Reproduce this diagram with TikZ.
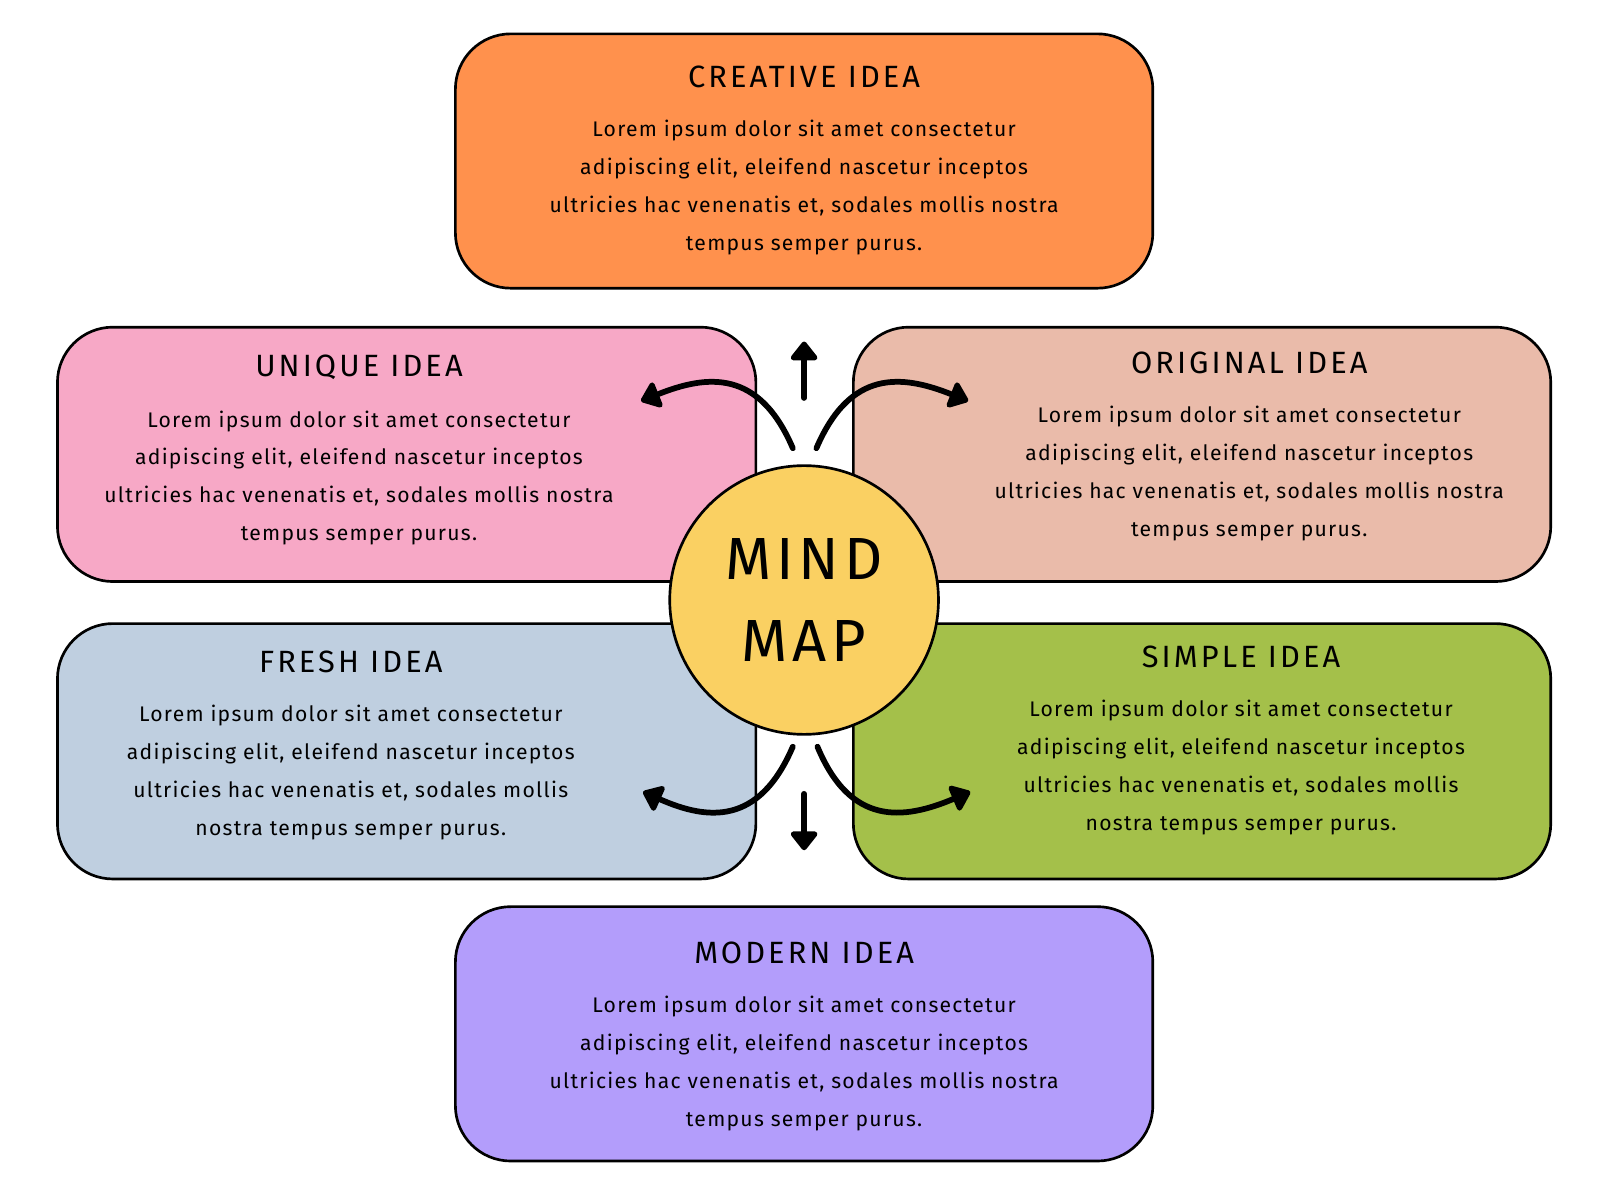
\documentclass[tikz,border=0pt]{standalone}
\usepackage{fontspec}
\setmainfont{Fira Sans}
\usetikzlibrary{arrows.meta}
\definecolor{cOr}{HTML}{FF914D}
\definecolor{cPk}{HTML}{F7A8C6}
\definecolor{cPe}{HTML}{EABBAA}
\definecolor{cBl}{HTML}{BFCFE0}
\definecolor{cGr}{HTML}{A4C04A}
\definecolor{cVi}{HTML}{B39DFB}
\definecolor{cYe}{HTML}{FAD062}
\begin{document}
\begin{tikzpicture}[x=0.5pt,y=-0.5pt,
 box/.style={draw=black,line width=1.3pt,rounded corners=27pt},
 ttl/.style={font=\fontsize{15}{18}\selectfont\addfontfeature{LetterSpace=10}},
 bod/.style={align=center,font=\fontsize{10.3}{18.5}\selectfont\addfontfeature{LetterSpace=6}},
 arr/.style={line width=2.8pt,line cap=round,-{Triangle[round,length=10pt,width=15pt]}}]
\useasboundingbox (0,0) rectangle (1560,1170);
\fill[white] (0,0) rectangle (1560,1170);
\def\body{Lorem ipsum dolor sit amet consectetur\\adipiscing elit, eleifend nascetur inceptos\\ultricies hac venenatis et, sodales mollis nostra\\tempus semper purus.}
\def\bodyb{Lorem ipsum dolor sit amet consectetur\\adipiscing elit, eleifend nascetur inceptos\\ultricies hac venenatis et, sodales mollis\\nostra tempus semper purus.}
\draw[box,fill=cOr] (444,33) rectangle (1124,281);
\draw[box,fill=cPk] (56,319) rectangle (737,567);
\draw[box,fill=cPe] (832,319) rectangle (1512,567);
\draw[box,fill=cBl] (56,608) rectangle (737,857);
\draw[box,fill=cGr] (832,608) rectangle (1512,857);
\draw[box,fill=cVi] (444,884) rectangle (1124,1132);
\node[ttl] (t1) at (784,75) {CREATIVE IDEA};
\node[bod] (b1) at (784,183) {\body};
\node[ttl] (t2) at (350,358) {UNIQUE IDEA};
\node[bod] (b2) at (350,466) {\body};
\node[ttl] (t3) at (1218,354) {ORIGINAL IDEA};
\node[bod] (b3) at (1218,462) {\body};
\node[ttl] (t4) at (342,645) {FRESH IDEA};
\node[bod] (b4) at (342,753) {\bodyb};
\node[ttl] (t5) at (1210,640) {SIMPLE IDEA};
\node[bod] (b5) at (1210,748) {\bodyb};
\node[ttl] (t6) at (784,929) {MODERN IDEA};
\node[bod] (b6) at (784,1037) {\body};
\node[circle,draw=black,line width=1.3pt,fill=cYe,minimum size=131pt,inner sep=0pt,align=center,
  font=\fontsize{29}{40}\selectfont\addfontfeature{LetterSpace=8}] (c) at (784,585) {MIND\\MAP};
\coordinate (u0) at (784,388); \coordinate (u1) at (784,333);
\coordinate (d0) at (784,774); \coordinate (d1) at (784,829);
\coordinate (l0) at (773,437); \coordinate (l1) at (625,391);
\coordinate (r0) at (796,437); \coordinate (r1) at (944,391);
\coordinate (ll0) at (773,728); \coordinate (ll1) at (627,772);
\coordinate (rr0) at (797,728); \coordinate (rr1) at (946,772);
\draw[arr] (u0) -- (u1);
\draw[arr] (d0) -- (d1);
\draw[arr] (l0) .. controls (740,360) and (690,365) .. (l1);
\draw[arr] (r0) .. controls (829,360) and (879,365) .. (r1);
\draw[arr] (ll0) .. controls (740,805) and (690,800) .. (ll1);
\draw[arr] (rr0) .. controls (829,805) and (880,800) .. (rr1);
\end{tikzpicture}
\end{document}
